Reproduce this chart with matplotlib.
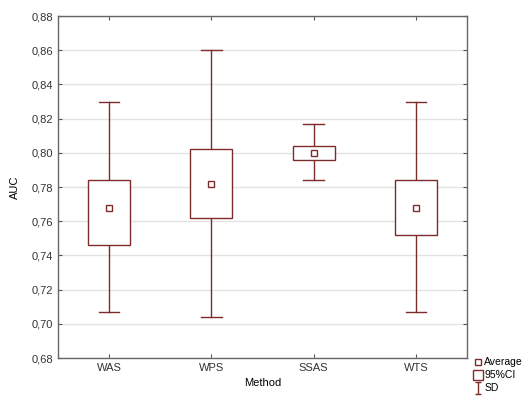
import matplotlib.pyplot as plt
from matplotlib.lines import Line2D
from matplotlib.patches import Rectangle
from matplotlib.path import Path

plt.rcParams['font.family'] = ['Liberation Sans', 'DejaVu Sans']

# Wartości
methods = ["WAS", "WPS", "SSAS", "WTS"]
average = [0.768, 0.782, 0.800, 0.768]
ci_low = [0.746, 0.762, 0.796, 0.752]
ci_high = [0.784, 0.802, 0.804, 0.784]
sd_low = [0.707, 0.704, 0.784, 0.707]
sd_high = [0.830, 0.860, 0.817, 0.830]

kolor = "#7e2b2b"
yticks = [0.68 + 0.02 * i for i in range(11)]

fig = plt.figure(figsize=(5.27, 3.96), dpi=100)
ax = fig.add_axes([58 / 527, 1 - 358 / 396, 409 / 527, 342 / 396])

box_w = 0.41
cap_w = 0.2
for i in range(len(methods)):
    # wąsy (SD)
    ax.plot([i, i], [sd_low[i], ci_low[i]], color=kolor, lw=1)
    ax.plot([i, i], [ci_high[i], sd_high[i]], color=kolor, lw=1)
    ax.plot([i - cap_w / 2, i + cap_w / 2], [sd_low[i]] * 2, color=kolor, lw=1)
    ax.plot([i - cap_w / 2, i + cap_w / 2], [sd_high[i]] * 2, color=kolor, lw=1)
    # pudełko (95%CI)
    ax.add_patch(Rectangle((i - box_w / 2, ci_low[i]), box_w, ci_high[i] - ci_low[i],
                           facecolor="white", edgecolor=kolor, lw=1, zorder=3))
    # średnia
    ax.plot(i, average[i], marker="s", ms=3.8, mfc="white", mec=kolor, mew=1, zorder=4)

ax.set_xlim(-0.5, 3.5)
ax.set_ylim(0.68, 0.88)
ax.set_xticks(range(len(methods)))
ax.set_xticklabels(methods)
ax.set_yticks(yticks)
ax.set_yticklabels([("%.2f" % v).replace(".", ",") for v in yticks])
ax.grid(axis="y", color="#e3e3e3", lw=1)
ax.set_axisbelow(True)
ax.tick_params(direction="in", length=3, labelsize=8, color="#555555",
               labelcolor="#333333", top=True, right=True)
for s in ax.spines.values():
    s.set_color("#666666")
    s.set_linewidth(1)
ax.set_xlabel("Method", fontsize=8, labelpad=4)
ax.set_ylabel("AUC", fontsize=8, labelpad=8)

sd_path = Path([(-0.6, 1), (0.6, 1), (0, 1), (0, -1), (-0.6, -1), (0.6, -1)],
               [Path.MOVETO, Path.LINETO, Path.MOVETO, Path.LINETO, Path.MOVETO, Path.LINETO])
handles = [
    Line2D([], [], ls="", marker="s", ms=3.8, mfc="white", mec=kolor, mew=1),
    Line2D([], [], ls="", marker="s", ms=7.5, mfc="white", mec=kolor, mew=1),
    Line2D([], [], ls="", marker=sd_path, ms=8, mfc="none", mec=kolor, mew=1),
]
fig.legend(handles, ["Average", "95%CI", "SD"], loc="upper left",
           bbox_to_anchor=(469 / 527, 1 - 352 / 396), frameon=False, fontsize=7.5,
           handlelength=0.7, handletextpad=0.25, labelspacing=0.3, borderpad=0)

fig.savefig("out.png", dpi=100)
